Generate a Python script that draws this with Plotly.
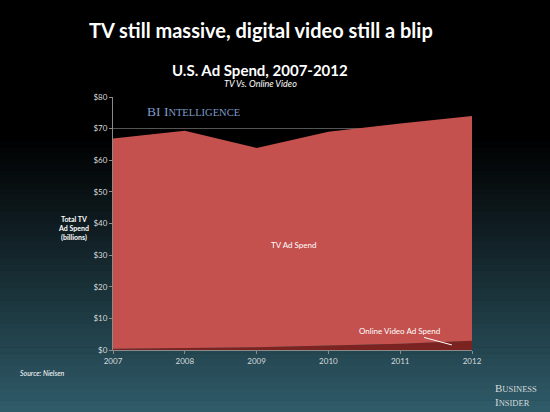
import plotly.graph_objects as go

years = [2007, 2008, 2009, 2010, 2011, 2012]
online_video = [0.4, 0.6, 0.9, 1.4, 2.0, 2.9]
tv = [66.5, 68.7, 63.0, 67.6, 69.6, 71.1]
y_ticks = [0, 10, 20, 30, 40, 50, 60, 70, 80]

W, H = 550, 412
ML, MR, MT, MB = 113, 78, 97, 62
ph = H - MT - MB
pw = W - ML - MR

fig = go.Figure()
fig.add_trace(go.Scatter(x=years, y=online_video, stackgroup="s", mode="none",
                         fillcolor="#7a2321", name="Online Video Ad Spend"))
fig.add_trace(go.Scatter(x=years, y=tv, stackgroup="s", mode="none",
                         fillcolor="#c4514e", name="TV Ad Spend"))

# background gradient strips
shapes = []
N = 70
top_dark = 135
for i in range(N):
    p0 = i * H / N
    p1 = (i + 1) * H / N + 0.6
    pm = (p0 + p1) / 2
    t = max(0.0, (pm - top_dark) / (H - top_dark))
    t = t ** 1.05
    r, g, b = int(48 * t), int(92 * t), int(106 * t)
    shapes.append(dict(type="rect", xref="paper", yref="paper",
                       x0=-ML / pw - 0.01, x1=1 + MR / pw + 0.01,
                       y0=(H - MB - p1) / ph, y1=(H - MB - p0) / ph,
                       fillcolor=f"rgb({r},{g},{b})", line=dict(width=0),
                       layer="below"))

def px_x(p):
    return (p - ML) / pw

def px_y(p):
    return (H - MB - p) / ph

def note(text, x, y, size, xanchor="center", color="white", family="Lato", **kw):
    return dict(text=text, x=px_x(x), y=px_y(y), xref="paper", yref="paper",
                xanchor=xanchor, yanchor="middle", showarrow=False,
                font=dict(family=family, size=size, color=color), **kw)

annotations = [
    note("<b>TV still massive, digital video still a blip</b>", 261, 30, 20),
    note("<b>U.S. Ad Spend, 2007-2012</b>", 260, 70, 15),
    note("<i>TV Vs. Online Video</i>", 260, 83, 9),
    note("<b>Total TV<br>Ad Spend<br>(billions)</b>", 73, 228, 7),
    note("<i>Source: Nielsen</i>", 18, 373, 7, xanchor="left"),
    note("B<span style='font-size:8.5px'>USINESS</span><br>I<span style='font-size:8.5px'>NSIDER</span>",
         493, 395, 11, xanchor="left", color="#d4dadc", family="Liberation Serif", align="left"),
    note("BI I<span style='font-size:10.5px'>NTELLIGENCE</span>", 145, 111, 13.5,
         xanchor="left", color="#7f9cc8", family="Liberation Serif"),
    note("TV Ad Spend", 293, 245, 8),
    dict(text="Online Video Ad Spend", x=2011.72, y=1.6, xref="x", yref="y",
         showarrow=True, arrowhead=0, arrowwidth=1, arrowcolor="white",
         ax=-52, ay=-14, font=dict(family="Lato", size=8, color="white")),
]

fig.update_layout(
    width=W, height=H, margin=dict(l=ML, r=MR, t=MT, b=MB),
    paper_bgcolor="black", plot_bgcolor="rgba(0,0,0,0)",
    showlegend=False, shapes=shapes, annotations=annotations,
    font=dict(family="Lato", color="#d0d4d6"),
)
fig.update_xaxes(range=[2007, 2012], tickvals=years, ticktext=[str(y) for y in years],
                 showgrid=False, showline=True, linecolor="#8a8a8a", linewidth=1,
                 ticks="outside", ticklen=3, tickcolor="#8a8a8a",
                 tickfont=dict(size=8, color="#d6dadc"), zeroline=False)
fig.update_yaxes(range=[0, 80], tickvals=y_ticks, ticktext=[f"${v}" for v in y_ticks],
                 showgrid=True, gridcolor="#555555", gridwidth=1,
                 showline=True, linecolor="#8a8a8a", linewidth=1,
                 ticks="outside", ticklen=3, tickcolor="#8a8a8a",
                 tickfont=dict(size=8, color="#d6dadc"), zeroline=False)

fig.write_html("out.html")
